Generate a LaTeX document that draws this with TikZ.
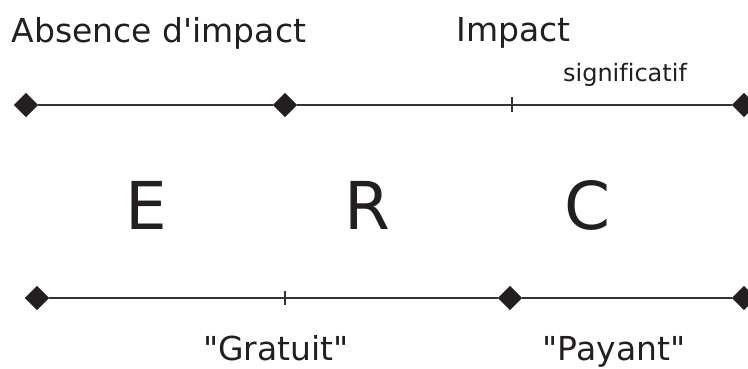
\documentclass[tikz,border=0pt]{standalone}
\usepackage{fontspec}
\newfontfamily\vf{DejaVu Sans}[Ligatures={NoCommon}]
\usetikzlibrary{shapes.geometric}
\definecolor{ink}{HTML}{231F20}
\definecolor{linec}{HTML}{333333}
\tikzset{
  mark diamond/.style={diamond, fill=ink, draw=none, inner sep=0pt, minimum width=24.5pt, minimum height=24.5pt},
  axis line/.style={draw=linec, line width=2pt},
  tick line/.style={draw=linec, line width=1.4pt},
  big label/.style={anchor=base, inner sep=0pt, text=ink, font=\vf\fontsize{33}{36}\selectfont},
  small label/.style={anchor=base, inner sep=0pt, text=ink, font=\vf\fontsize{24}{28}\selectfont},
  letter label/.style={anchor=base, inner sep=0pt, text=ink, font=\vf\fontsize{66}{70}\selectfont},
}
\begin{document}
\begin{tikzpicture}[x=1pt,y=1pt]
\useasboundingbox (0,0) rectangle (748,-369);
% top axis
\node[mark diamond] (tl) at (26,-105) {};
\node[mark diamond] (tm) at (285,-105) {};
\node[mark diamond] (tr) at (744,-105) {};
\coordinate (tt) at (512,-105);
\draw[axis line] (tl) -- (tm);
\draw[axis line] (tm) -- (tr);
\draw[tick line] ([yshift=7.5pt]tt) -- ([yshift=-7.5pt]tt);
% bottom axis
\node[mark diamond] (bl) at (37,-298) {};
\node[mark diamond] (bm) at (510,-298) {};
\node[mark diamond] (br) at (744,-298) {};
\coordinate (bt) at (285,-298);
\draw[axis line] (bl) -- (bm);
\draw[axis line] (bm) -- (br);
\draw[tick line] ([yshift=7pt]bt) -- ([yshift=-7pt]bt);
% labels
\node[big label] (absence) at (159,-43) {Absence d'impact};
\node[big label] (impact) at (513.5,-42) {Impact};
\node[small label] (signif) at (625,-82) {significatif};
\node[letter label] (E) at (146.5,-229) {E};
\node[letter label] (R) at (367,-229) {R};
\node[letter label] (C) at (588,-229) {C};
\node[big label] (gratuit) at (276,-360) {"Gratuit"};
\node[big label] (payant) at (614,-360) {"Payant"};
\end{tikzpicture}
\end{document}
